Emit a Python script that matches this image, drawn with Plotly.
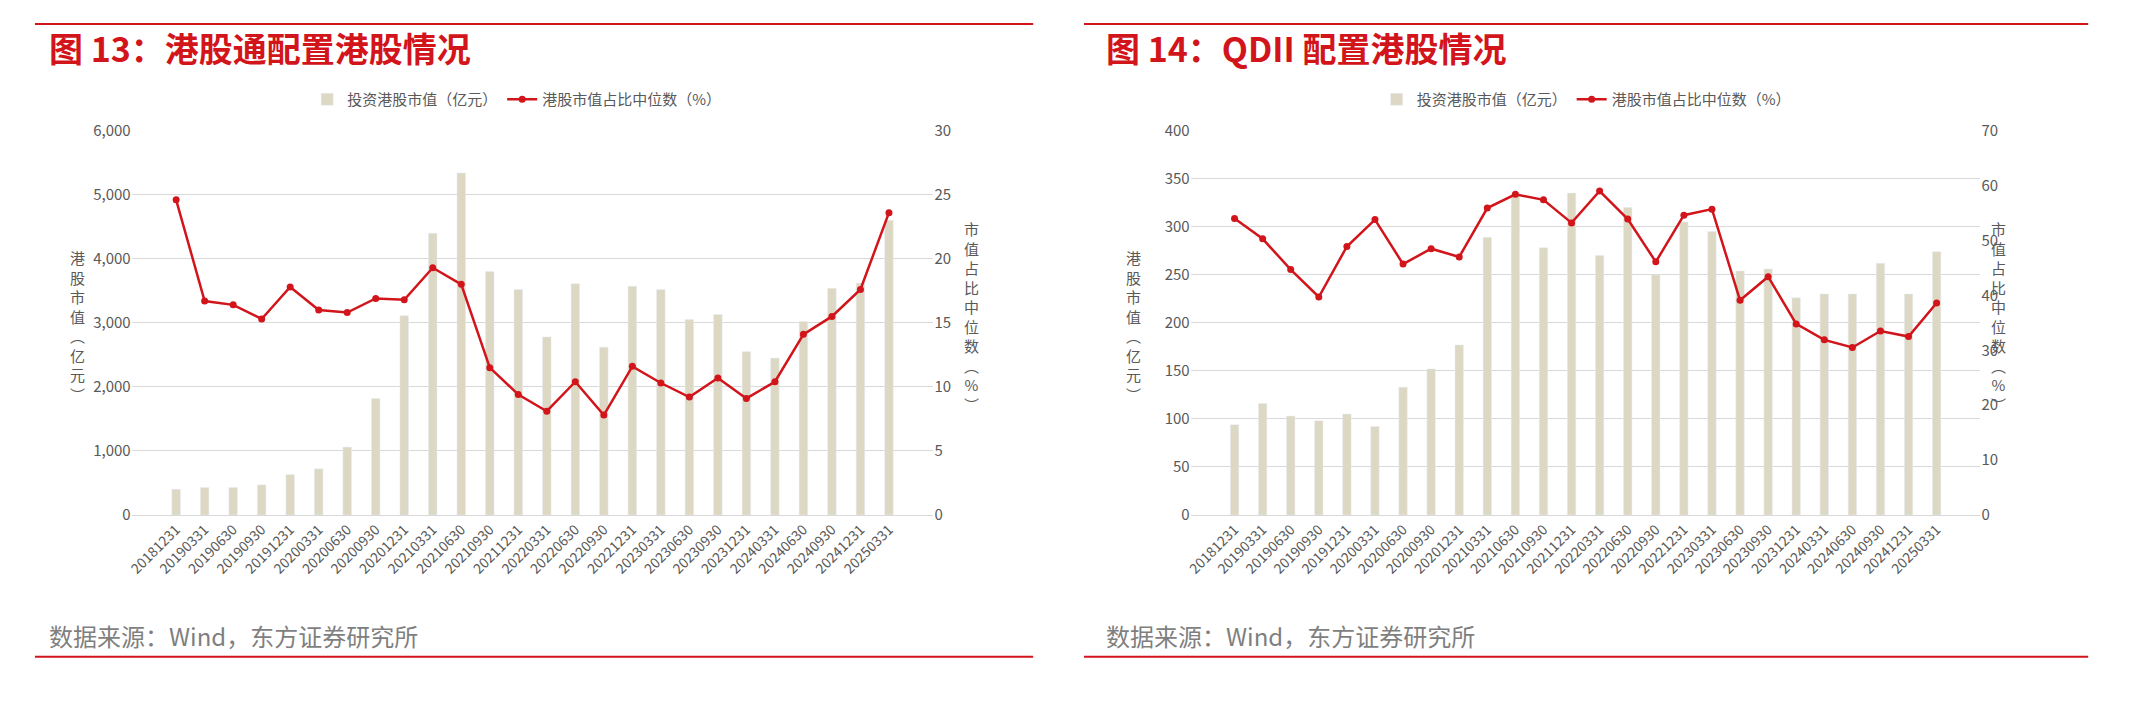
import plotly.graph_objects as go

dates = ["20181231", "20190331", "20190630", "20190930", "20191231", "20200331", "20200630",
         "20200930", "20201231", "20210331", "20210630", "20210930", "20211231", "20220331",
         "20220630", "20220930", "20221231", "20230331", "20230630", "20230930", "20231231",
         "20240331", "20240630", "20240930", "20241231", "20250331"]

# 图13 港股通
sc_value = [400, 430, 430, 470, 630, 720, 1060, 1820, 3110, 4400, 5340, 3800, 3520, 2780,
            3610, 2620, 3570, 3520, 3050, 3130, 2550, 2450, 3020, 3540, 3620, 4600]
sc_ratio = [24.6, 16.7, 16.4, 15.3, 17.8, 16.0, 15.8, 16.9, 16.8, 19.3, 18.0, 11.5, 9.4, 8.1,
            10.4, 7.8, 11.6, 10.3, 9.2, 10.7, 9.1, 10.4, 14.1, 15.5, 17.6, 23.6]

# 图14 QDII
qd_value = [94, 116, 103, 98, 105, 92, 133, 152, 177, 289, 333, 278, 335, 270, 320, 250, 305,
            295, 254, 256, 226, 230, 230, 262, 230, 274]
qd_ratio = [54.0, 50.3, 44.7, 39.7, 48.9, 53.8, 45.7, 48.5, 47.0, 55.9, 58.4, 57.4, 53.2, 59.0,
            53.9, 46.1, 54.6, 55.7, 39.1, 43.4, 34.8, 31.9, 30.5, 33.5, 32.5, 38.6]

BAR = "#ddd8c3"
RED = "#d2141b"
GREY = "#595959"
FONT = "Noto Sans CJK SC"
W, H = 2145, 713

fig = go.Figure()


def yp(px):
    return 1 - px / H


def add_panel(n, vals, ratios, legend, xdom, yrng, ydt, y2rng, y2dt):
    xa = "x" if n == 1 else "x%d" % n
    ya_l = "y" if n == 1 else "y%d" % (2 * n - 1)
    ya_r = "y%d" % (2 * n)
    fig.add_trace(go.Bar(x=dates, y=vals, name="投资港股市值（亿元）", marker_color=BAR,
                         width=0.3, xaxis=xa, yaxis=ya_l, legend=legend))
    fig.add_trace(go.Scatter(x=dates, y=ratios, name="港股市值占比中位数（%）", mode="lines+markers",
                             line=dict(color=RED, width=2.5), marker=dict(size=7, color=RED),
                             xaxis=xa, yaxis=ya_r, legend=legend))
    sfx = "" if n == 1 else str(n)
    sl = "" if n == 1 else str(2 * n - 1)
    fig.update_layout(**{
        "xaxis" + sfx: dict(domain=xdom, anchor="y" + sl, tickangle=-45, showgrid=False,
                            showline=True, linecolor="#d9d9d9", tickfont=dict(size=14, color=GREY)),
        "yaxis" + sl: dict(domain=[yp(510), yp(114)], anchor="x" + sfx, range=yrng, dtick=ydt,
                           gridcolor="#d9d9d9", zeroline=False, tickformat=",",
                           tickfont=dict(size=15, color=GREY)),
        "yaxis" + str(2 * n): dict(overlaying="y" + sl, side="right", anchor="x" + sfx,
                                   range=y2rng, dtick=y2dt, showgrid=False, zeroline=False,
                                   tickfont=dict(size=15, color=GREY)),
    })


add_panel(1, sc_value, sc_ratio, "legend", [118 / W, 922 / W], [0, 6000], 1000, [0, 30], 5)
add_panel(2, qd_value, qd_ratio, "legend2", [1180 / W, 1972 / W], [0, 400], 50, [0, 70], 10)

vert_l = "<br>".join("港股市值（亿元）".replace("（", "︵").replace("）", "︶"))
vert_r = "<br>".join("市值占比中位数（%）".replace("（", "︵").replace("）", "︶"))

ann = []
for x0, title, yl, yr in [(33, "图 13：港股通配置港股情况", 54, 960),
                          (1093, "图 14：QDII 配置港股情况", 1123, 2000)]:
    ann.append(dict(x=x0 / W, y=yp(28), xref="paper", yref="paper", text="<b>" + title + "</b>",
                    showarrow=False, xanchor="left", yanchor="middle", font=dict(size=34, color=RED)))
    ann.append(dict(x=x0 / W, y=yp(634), xref="paper", yref="paper", text="数据来源：Wind，东方证券研究所",
                    showarrow=False, xanchor="left", yanchor="middle", font=dict(size=24, color="#7f7f7f")))
    ann.append(dict(x=yl / W, y=yp(315), xref="paper", yref="paper", text=vert_l,
                    showarrow=False, yanchor="middle", font=dict(size=15, color=GREY)))
    ann.append(dict(x=yr / W, y=yp(305), xref="paper", yref="paper", text=vert_r,
                    showarrow=False, yanchor="middle", font=dict(size=15, color=GREY)))

shapes = []
for xa, xb in [(21, 1022), (1073, 2080)]:
    for y in (4, 656):
        shapes.append(dict(type="line", xref="paper", yref="paper", x0=xa / W, x1=xb / W,
                           y0=yp(y), y1=yp(y), line=dict(color=RED, width=2)))

fig.update_layout(
    width=W, height=H, margin=dict(l=0, r=0, t=0, b=0),
    paper_bgcolor="white", plot_bgcolor="white",
    font=dict(family=FONT, color=GREY),
    annotations=ann, shapes=shapes,
    legend=dict(orientation="h", x=0.235, y=yp(82), xanchor="center", yanchor="middle",
                font=dict(size=15, color=GREY)),
    legend2=dict(orientation="h", x=0.735, y=yp(82), xanchor="center", yanchor="middle",
                 font=dict(size=15, color=GREY)),
)

fig.write_html("out.html")
